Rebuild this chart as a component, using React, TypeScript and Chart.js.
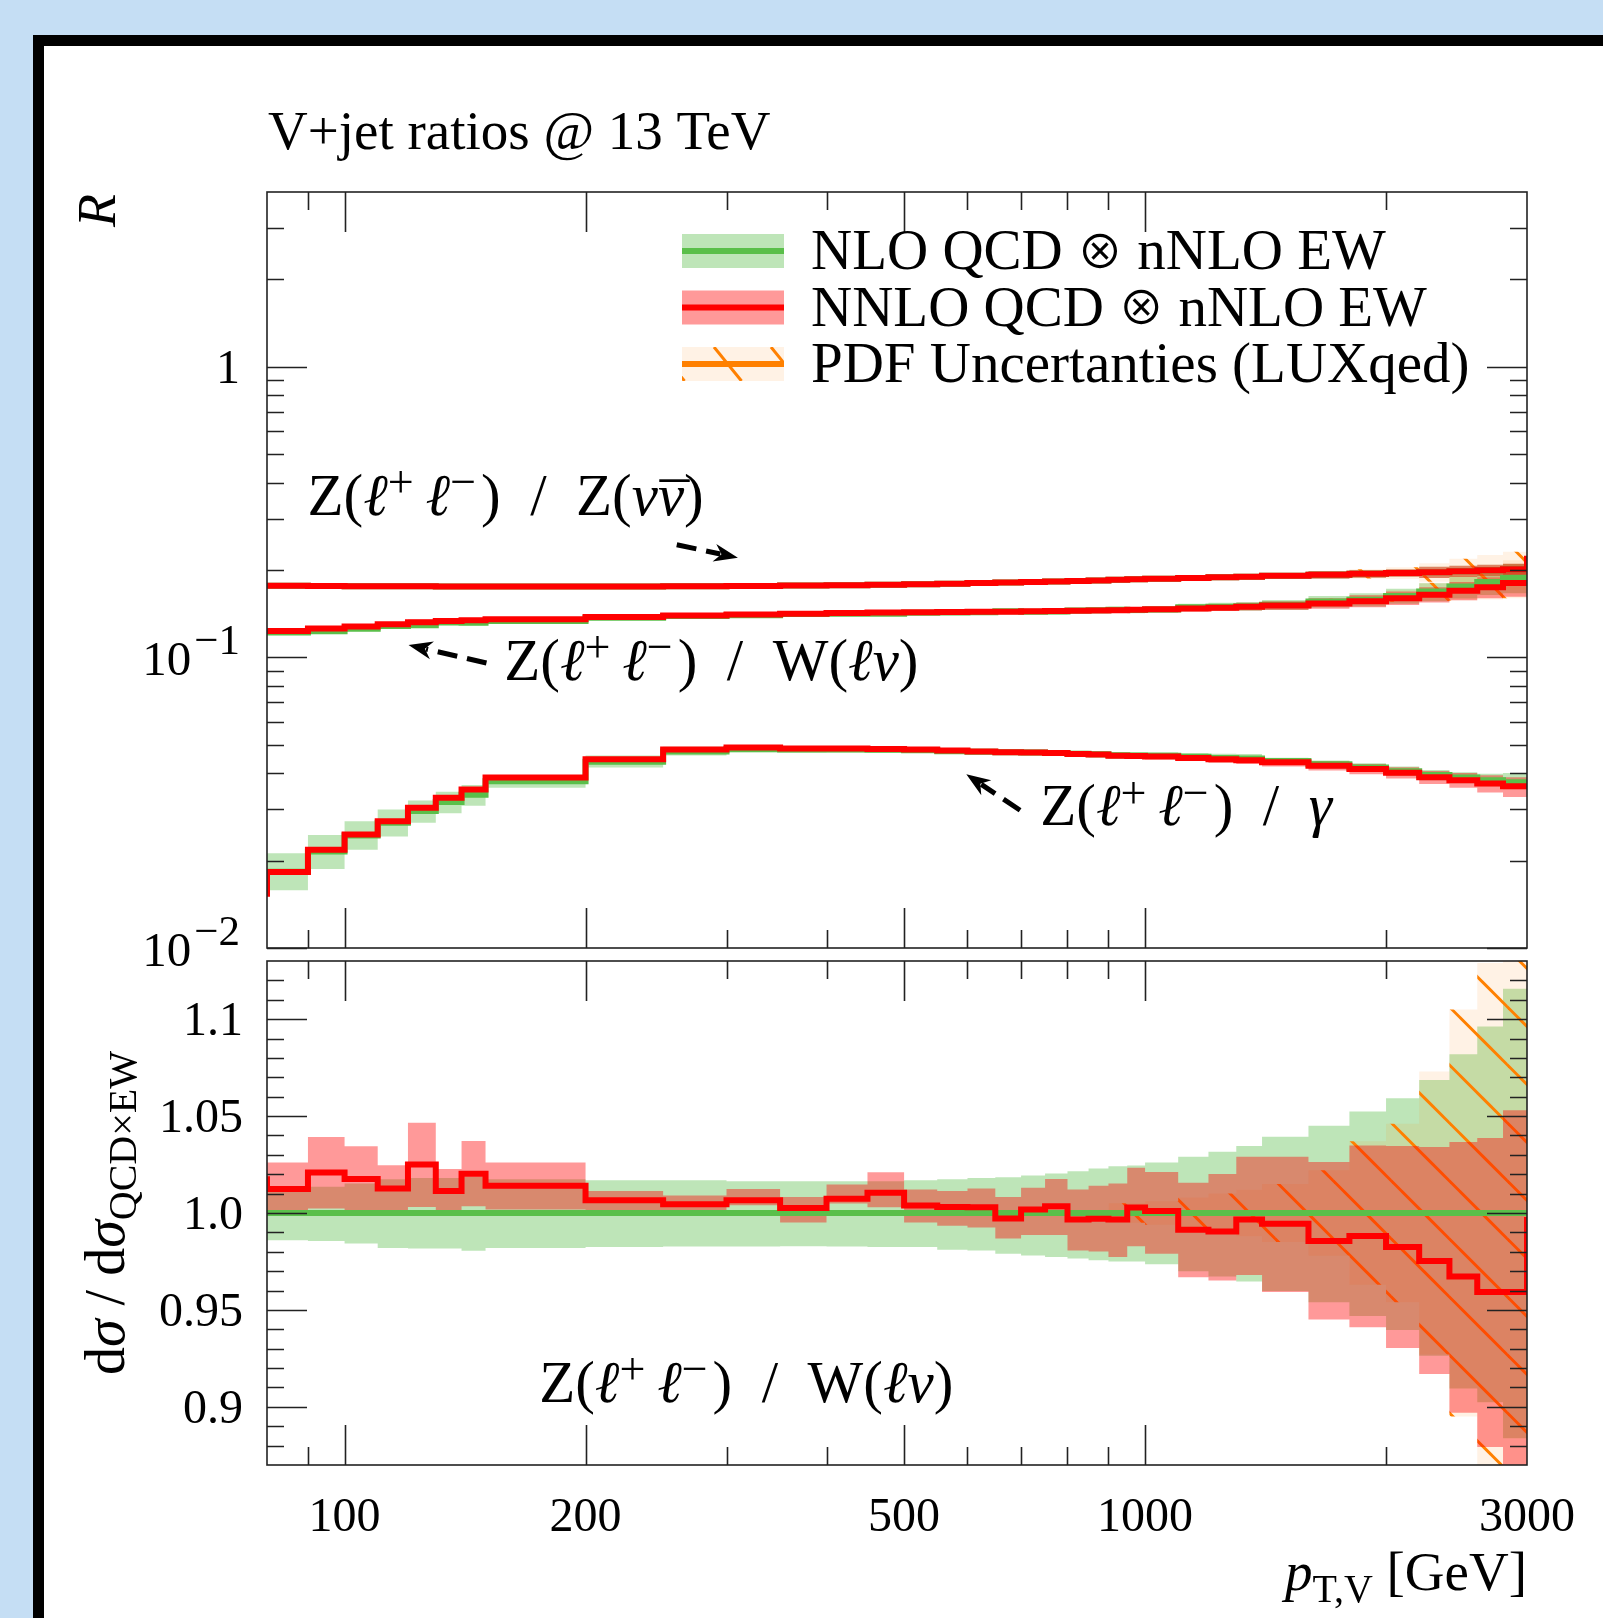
import { useEffect, useRef } from 'react';
import { Chart, registerables } from 'chart.js';

Chart.register(...registerables);

const W = 1603;
const H = 1618;
const FONT = '"Liberation Serif", "DejaVu Serif", serif';
const SYM_FONT = '"Noto Sans CJK JP", "DejaVu Sans", sans-serif';

// ---------------- data ----------------
const binEdges = [80, 90, 100, 110, 120, 130, 140, 150, 200, 250, 300, 350, 400, 450, 500, 550, 600, 650, 700, 750, 800, 850, 900, 950, 1000, 1100, 1200, 1300, 1400, 1600, 1800, 2000, 2200, 2400, 2600, 2800, 3000];
const pdfEdges = [900, 950, 1000, 1100, 1200, 1300, 1400, 1600, 1800, 2000, 2200, 2400, 2600, 2800, 3000];

// Z(ll)/Z(vv)
const zzAboveRange = 0.224;
const zzCentral = [0.1765, 0.1762, 0.1760, 0.1758, 0.1757, 0.1756, 0.1755, 0.1754, 0.1755, 0.1758, 0.1762, 0.1768, 0.1774, 0.1780, 0.1786, 0.1795, 0.1803, 0.1811, 0.1819, 0.1826, 0.1834, 0.1842, 0.1850, 0.1858, 0.1867, 0.1878, 0.1888, 0.1897, 0.1910, 0.1925, 0.1940, 0.1953, 0.1966, 0.1980, 0.1995, 0.2010];
const zzBandLo = [0.1758, 0.1755, 0.1753, 0.1751, 0.1750, 0.1749, 0.1748, 0.1747, 0.1748, 0.1751, 0.1755, 0.1761, 0.1767, 0.1773, 0.1775, 0.1784, 0.1792, 0.1800, 0.1808, 0.1815, 0.1823, 0.1831, 0.1832, 0.1839, 0.1848, 0.1859, 0.1850, 0.1859, 0.1872, 0.1867, 0.1882, 0.1894, 0.1878, 0.1891, 0.1905, 0.1920];
const zzBandHi = [0.1772, 0.1769, 0.1767, 0.1765, 0.1764, 0.1763, 0.1762, 0.1761, 0.1762, 0.1765, 0.1769, 0.1775, 0.1781, 0.1787, 0.1797, 0.1806, 0.1814, 0.1822, 0.1830, 0.1837, 0.1845, 0.1853, 0.1868, 0.1877, 0.1886, 0.1897, 0.1926, 0.1935, 0.1948, 0.1983, 0.1998, 0.2012, 0.2054, 0.2069, 0.2085, 0.2100];
const zzPdfLo = [0.1841, 0.1849, 0.1856, 0.1863, 0.1869, 0.1874, 0.1881, 0.1883, 0.1868, 0.1863, 0.1822, 0.1772, 0.1736, 0.1709];
const zzPdfHi = [0.1859, 0.1867, 0.1878, 0.1893, 0.1907, 0.1920, 0.1939, 0.1967, 0.2012, 0.2043, 0.2110, 0.2188, 0.2254, 0.2311];

// Z(ll)/W(lv)
const zwNNLO = [0.1234, 0.1258, 0.1277, 0.1300, 0.1322, 0.1335, 0.1344, 0.1355, 0.1379, 0.1395, 0.1405, 0.1415, 0.1423, 0.1428, 0.1430, 0.1433, 0.1436, 0.1438, 0.1441, 0.1444, 0.1447, 0.1450, 0.1455, 0.1460, 0.1464, 0.1475, 0.1482, 0.1495, 0.1510, 0.1535, 0.1562, 0.1600, 0.1644, 0.1697, 0.1746, 0.1803];
const zwNNLOLo = [0.1221, 0.1235, 0.1257, 0.1286, 0.1294, 0.1322, 0.1322, 0.1338, 0.1369, 0.1388, 0.1402, 0.1404, 0.1420, 0.1417, 0.1417, 0.1420, 0.1421, 0.1423, 0.1422, 0.1423, 0.1424, 0.1425, 0.1427, 0.1431, 0.1432, 0.1439, 0.1444, 0.1452, 0.1456, 0.1472, 0.1488, 0.1515, 0.1546, 0.1573, 0.1600, 0.1617];
const zwNNLOHi = [0.1251, 0.1280, 0.1298, 0.1316, 0.1350, 0.1350, 0.1366, 0.1371, 0.1386, 0.1402, 0.1413, 0.1423, 0.1434, 0.1443, 0.1441, 0.1445, 0.1450, 0.1454, 0.1457, 0.1464, 0.1470, 0.1475, 0.1482, 0.1490, 0.1494, 0.1511, 0.1526, 0.1544, 0.1562, 0.1598, 0.1636, 0.1685, 0.1743, 0.1818, 0.1890, 0.1980];
const zwNLO = [0.1219, 0.1232, 0.1255, 0.1284, 0.1290, 0.1320, 0.1317, 0.1336, 0.1370, 0.1389, 0.1396, 0.1411, 0.1413, 0.1413, 0.1424, 0.1429, 0.1432, 0.1442, 0.1438, 0.1439, 0.1452, 0.1454, 0.1460, 0.1456, 0.1463, 0.1488, 0.1496, 0.1500, 0.1518, 0.1557, 0.1581, 0.1629, 0.1686, 0.1754, 0.1820, 0.1880];
const zwNLOLo = [0.1202, 0.1214, 0.1235, 0.1261, 0.1266, 0.1296, 0.1291, 0.1312, 0.1346, 0.1365, 0.1372, 0.1387, 0.1389, 0.1388, 0.1399, 0.1402, 0.1404, 0.1412, 0.1407, 0.1406, 0.1418, 0.1419, 0.1424, 0.1420, 0.1424, 0.1443, 0.1447, 0.1447, 0.1457, 0.1485, 0.1497, 0.1531, 0.1562, 0.1595, 0.1642, 0.1662];
const zwNLOHi = [0.1232, 0.1249, 0.1274, 0.1306, 0.1313, 0.1344, 0.1341, 0.1359, 0.1393, 0.1412, 0.1419, 0.1434, 0.1436, 0.1436, 0.1448, 0.1454, 0.1458, 0.1469, 0.1466, 0.1468, 0.1483, 0.1487, 0.1495, 0.1492, 0.1501, 0.1531, 0.1543, 0.1552, 0.1578, 0.1627, 0.1664, 0.1725, 0.1802, 0.1898, 0.1995, 0.2098];
const zwPdfLo = [0.1453, 0.1449, 0.1454, 0.1476, 0.1481, 0.1482, 0.1495, 0.1523, 0.1523, 0.1554, 0.1563, 0.1570, 0.1583, 0.1598];
const zwPdfHi = [0.1467, 0.1463, 0.1472, 0.1500, 0.1511, 0.1518, 0.1541, 0.1591, 0.1639, 0.1704, 0.1809, 0.1938, 0.2057, 0.2162];

// Z(ll)/gamma
const zgBelowRange = 0.0150;
const zgNNLO = [0.01826, 0.0218, 0.0246, 0.0273, 0.0304, 0.0329, 0.0351, 0.0386, 0.0446, 0.0482, 0.0490, 0.0486, 0.0486, 0.0484, 0.0482, 0.0478, 0.0475, 0.0472, 0.0471, 0.0469, 0.0465, 0.0463, 0.0459, 0.0458, 0.0456, 0.0451, 0.0446, 0.0443, 0.0436, 0.0424, 0.0413, 0.0401, 0.0387, 0.0378, 0.0368, 0.0360];
const zgNNLOLo = [0.0180, 0.0216, 0.0243, 0.0270, 0.0301, 0.0326, 0.0347, 0.0382, 0.0441, 0.0477, 0.0485, 0.0481, 0.0481, 0.0479, 0.0476, 0.0472, 0.0469, 0.0465, 0.0464, 0.0462, 0.0457, 0.0455, 0.0450, 0.0449, 0.0446, 0.0440, 0.0434, 0.0430, 0.0421, 0.0408, 0.0396, 0.0383, 0.0367, 0.0356, 0.0343, 0.0331];
const zgNNLOHi = [0.0185, 0.0220, 0.0249, 0.0276, 0.0307, 0.0332, 0.0355, 0.0390, 0.0451, 0.0487, 0.0495, 0.0491, 0.0491, 0.0489, 0.0488, 0.0484, 0.0481, 0.0479, 0.0478, 0.0476, 0.0473, 0.0471, 0.0468, 0.0467, 0.0466, 0.0462, 0.0458, 0.0456, 0.0451, 0.0440, 0.0430, 0.0419, 0.0407, 0.0400, 0.0393, 0.0387];
const zgNLO = [0.0183, 0.0215, 0.0244, 0.0270, 0.0296, 0.0318, 0.0337, 0.0375, 0.0438, 0.0475, 0.0484, 0.0482, 0.0482, 0.0481, 0.0479, 0.0476, 0.0474, 0.0472, 0.0471, 0.0469, 0.0466, 0.0464, 0.0461, 0.0460, 0.0459, 0.0455, 0.0451, 0.0449, 0.0440, 0.0429, 0.0418, 0.0406, 0.0394, 0.0386, 0.0378, 0.0372];
const zgNLOLo = [0.0158, 0.0187, 0.0218, 0.0242, 0.0270, 0.0291, 0.0309, 0.0356, 0.0418, 0.0460, 0.0470, 0.0470, 0.0471, 0.0470, 0.0469, 0.0466, 0.0464, 0.0462, 0.0460, 0.0458, 0.0455, 0.0453, 0.0449, 0.0448, 0.0446, 0.0441, 0.0436, 0.0433, 0.0428, 0.0416, 0.0404, 0.0391, 0.0378, 0.0369, 0.0360, 0.0352];
const zgNLOHi = [0.0212, 0.0245, 0.0273, 0.0300, 0.0322, 0.0345, 0.0364, 0.0394, 0.0460, 0.0493, 0.0497, 0.0494, 0.0493, 0.0492, 0.0490, 0.0487, 0.0485, 0.0483, 0.0482, 0.0480, 0.0477, 0.0476, 0.0473, 0.0472, 0.0472, 0.0469, 0.0466, 0.0465, 0.0452, 0.0442, 0.0432, 0.0421, 0.0410, 0.0403, 0.0398, 0.0400];

// ratio panel: Z(ll)/W(lv), normalised to NLO QCD x nNLO EW
const ratioBelowRange = 1.019;
const ratioAboveRange = 0.998;
const ratioNNLO = [1.0124, 1.0209, 1.0176, 1.0126, 1.0250, 1.0114, 1.0203, 1.0140, 1.0066, 1.0045, 1.0066, 1.0026, 1.0073, 1.0104, 1.0039, 1.0031, 1.0030, 0.9972, 1.0018, 1.0035, 0.9966, 0.9970, 0.9966, 1.0028, 1.0010, 0.9913, 0.9904, 0.9966, 0.9945, 0.9856, 0.9881, 0.9824, 0.9753, 0.9673, 0.9593, 0.9593];
const ratioNNLOLo = [1.0014, 1.0023, 1.0014, 1.0014, 1.0031, 1.0014, 1.0035, 1.0018, 0.9990, 0.9990, 1.0040, 0.9951, 1.0049, 1.0030, 0.9951, 0.9934, 0.9925, 0.9869, 0.9886, 0.9886, 0.9806, 0.9801, 0.9773, 0.9828, 0.9790, 0.9668, 0.9652, 0.9680, 0.9593, 0.9451, 0.9410, 0.9303, 0.9170, 0.8970, 0.8793, 0.8600];
const ratioNNLOHi = [1.0260, 1.0392, 1.0344, 1.0246, 1.0466, 1.0227, 1.0372, 1.0260, 1.0114, 1.0090, 1.0124, 1.0083, 1.0147, 1.0210, 1.0121, 1.0114, 1.0126, 1.0083, 1.0130, 1.0176, 1.0121, 1.0141, 1.0152, 1.0233, 1.0212, 1.0156, 1.0201, 1.0290, 1.0290, 1.0263, 1.0348, 1.0345, 1.0340, 1.0366, 1.0387, 1.0530];
const ratioNLO = [1.0, 1.0];
const ratioNLOLo = [0.9860, 0.9856, 0.9843, 0.9820, 0.9817, 0.9817, 0.9805, 0.9820, 0.9825, 0.9827, 0.9827, 0.9829, 0.9827, 0.9825, 0.9825, 0.9810, 0.9806, 0.9790, 0.9781, 0.9773, 0.9765, 0.9756, 0.9750, 0.9750, 0.9735, 0.9700, 0.9673, 0.9646, 0.9597, 0.9540, 0.9469, 0.9397, 0.9264, 0.9095, 0.9024, 0.8838];
const ratioNLOHi = [1.0109, 1.0135, 1.0152, 1.0174, 1.0181, 1.0181, 1.0186, 1.0174, 1.0169, 1.0169, 1.0164, 1.0164, 1.0164, 1.0164, 1.0169, 1.0174, 1.0180, 1.0185, 1.0193, 1.0204, 1.0215, 1.0229, 1.0241, 1.0245, 1.0260, 1.0290, 1.0316, 1.0345, 1.0393, 1.0450, 1.0523, 1.0592, 1.0686, 1.0819, 1.0962, 1.1157];
const ratioPdfLo = [0.995, 0.995, 0.994, 0.992, 0.990, 0.988, 0.985, 0.978, 0.963, 0.954, 0.927, 0.895, 0.866, 0.850];
const ratioPdfHi = [1.005, 1.005, 1.006, 1.008, 1.010, 1.012, 1.015, 1.022, 1.037, 1.046, 1.073, 1.105, 1.129, 1.150];

// ticks
const xMajorTicks = [100, 200, 500, 1000];
const xMinorTicks = [90, 300, 400, 600, 700, 800, 900, 2000];
const xTickLabels = [
  { v: 100, t: '100' },
  { v: 200, t: '200' },
  { v: 500, t: '500' },
  { v: 1000, t: '1000' },
  { v: 3000, t: '3000' },
];
const topYMajor = [0.01, 0.1, 1];
const topYMinor = [0.02, 0.03, 0.04, 0.05, 0.06, 0.07, 0.08, 0.09, 0.2, 0.3, 0.4, 0.5, 0.6, 0.7, 0.8, 0.9, 2, 3];
const topYLabels = [
  { v: 1, base: '1', exp: '' },
  { v: 0.1, base: '10', exp: '−1' },
  { v: 0.01, base: '10', exp: '−2' },
];
const botYMajor = [0.9, 0.95, 1.0, 1.05, 1.1];
const botYMinor = [0.88, 0.89, 0.91, 0.92, 0.93, 0.94, 0.96, 0.97, 0.98, 0.99, 1.01, 1.02, 1.03, 1.04, 1.06, 1.07, 1.08, 1.09, 1.11, 1.12];
const botYLabels = [
  { v: 1.1, t: '1.1' },
  { v: 1.05, t: '1.05' },
  { v: 1.0, t: '1.0' },
  { v: 0.95, t: '0.95' },
  { v: 0.9, t: '0.9' },
];

// colours
const RED = '#ff0000';
const RED_BAND = 'rgba(255,0,0,0.4)';
const GREEN = '#5abf4a';
const GREEN_BAND = 'rgba(92,191,77,0.4)';
const ORANGE = '#ff8000';
const ORANGE_FILL = 'rgba(255,128,0,0.1)';

// ---------------- helpers ----------------
function steps(edges: number[], vals: number[], before?: number, after?: number) {
  const pts: { x: number; y: number }[] = [];
  if (before !== undefined) pts.push({ x: edges[0], y: before });
  vals.forEach((v, i) => pts.push({ x: edges[i], y: v }));
  pts.push({ x: edges[vals.length], y: vals[vals.length - 1] });
  if (after !== undefined) pts.push({ x: edges[vals.length], y: after });
  return pts;
}

function lineDs(data: any[], color: string, width = 6) {
  return { data, borderColor: color, borderWidth: width, pointRadius: 0, fill: false, stepped: true, tension: 0, borderJoinStyle: 'miter' };
}
function bandHi(data: any[], bg: any) {
  return { data, borderColor: 'rgba(0,0,0,0)', borderWidth: 0, pointRadius: 0, fill: '+1', backgroundColor: bg, stepped: true, tension: 0 };
}
function bandLo(data: any[]) {
  return { data, borderColor: 'rgba(0,0,0,0)', borderWidth: 0, pointRadius: 0, fill: false, stepped: true, tension: 0 };
}

function makePattern(): any {
  const c = document.createElement('canvas');
  const S = 58;
  c.width = S;
  c.height = S;
  const g = c.getContext('2d')!;
  g.fillStyle = ORANGE_FILL;
  g.fillRect(0, 0, S, S);
  g.strokeStyle = ORANGE;
  g.lineWidth = 3;
  for (let k = -2; k <= 2; k++) {
    const off = 36.5 + S * k;
    g.beginPath();
    g.moveTo(-20, -20 - off);
    g.lineTo(S + 20, S + 20 - off);
    g.stroke();
  }
  return g.createPattern(c, 'repeat');
}

type Seg = { t: string; i?: boolean; s?: 'sup' | 'sub'; over?: boolean; sym?: boolean };
function drawRich(ctx: CanvasRenderingContext2D, segs: Seg[], x: number, y: number, size: number, align: 'left' | 'center' | 'right', supScale = 0.72, supRaise = 0.34) {
  const fontFor = (s: Seg) => {
    if (s.sym) return `${Math.round(size * 0.8)}px ${SYM_FONT}`;
    return `${s.i ? 'italic ' : ''}${s.s ? Math.round(size * supScale) : size}px ${FONT}`;
  };
  const widths = segs.map((s) => {
    ctx.font = fontFor(s);
    return s.over ? 0 : ctx.measureText(s.t).width;
  });
  const total = widths.reduce((p, c) => p + c, 0);
  let cx = align === 'left' ? x : align === 'center' ? x - total / 2 : x - total;
  ctx.textBaseline = 'alphabetic';
  let prevStart = cx;
  let prevW = 0;
  segs.forEach((s, k) => {
    ctx.font = fontFor(s);
    if (s.over) {
      ctx.textAlign = 'center';
      ctx.fillText(s.t, prevStart + prevW / 2 + size * 0.06, y + size * 0.16);
      ctx.textAlign = 'left';
      return;
    }
    ctx.textAlign = 'left';
    const dy = s.s === 'sup' ? -size * supRaise : s.s === 'sub' ? size * 0.22 : s.sym ? -size * 0.02 : 0;
    ctx.fillText(s.t, cx, y + dy);
    prevStart = cx;
    prevW = widths[k];
    cx += widths[k];
  });
}

function arrow(ctx: CanvasRenderingContext2D, x0: number, y0: number, x1: number, y1: number) {
  const ang = Math.atan2(y1 - y0, x1 - x0);
  const L = 24;
  const Wd = 9;
  const bx = x1 - Math.cos(ang) * L * 0.75;
  const by = y1 - Math.sin(ang) * L * 0.75;
  ctx.save();
  ctx.strokeStyle = '#000';
  ctx.fillStyle = '#000';
  ctx.lineWidth = 5;
  ctx.lineCap = 'butt';
  ctx.setLineDash([20, 10]);
  ctx.beginPath();
  ctx.moveTo(x0, y0);
  ctx.lineTo(bx, by);
  ctx.stroke();
  ctx.setLineDash([]);
  ctx.translate(x1, y1);
  ctx.rotate(ang);
  ctx.beginPath();
  ctx.moveTo(0, 0);
  ctx.lineTo(-L, -Wd);
  ctx.lineTo(-L * 0.7, 0);
  ctx.lineTo(-L, Wd);
  ctx.closePath();
  ctx.fill();
  ctx.restore();
}

function drawFrame(ctx: CanvasRenderingContext2D, a: any, xs: any, ys: any, yMaj: number[], yMin: number[]) {
  ctx.save();
  ctx.strokeStyle = '#222';
  ctx.lineWidth = 1.6;
  ctx.beginPath();
  const seg = (x0: number, y0: number, x1: number, y1: number) => {
    ctx.moveTo(x0, y0);
    ctx.lineTo(x1, y1);
  };
  const xt = (vals: number[], len: number) =>
    vals.forEach((v) => {
      const p = Math.round(xs.getPixelForValue(v)) + 0.5;
      seg(p, a.bottom, p, a.bottom - len);
      seg(p, a.top, p, a.top + len);
    });
  const yt = (vals: number[], len: number) =>
    vals.forEach((v) => {
      const p = Math.round(ys.getPixelForValue(v)) + 0.5;
      seg(a.left, p, a.left + len, p);
      seg(a.right, p, a.right - len, p);
    });
  xt(xMajorTicks, 40);
  xt(xMinorTicks, 18);
  yt(yMaj, 40);
  yt(yMin, 17);
  ctx.stroke();
  ctx.strokeRect(a.left, a.top, a.right - a.left, a.bottom - a.top);
  ctx.restore();
}

const llPart: Seg[] = [{ t: 'Z(' }, { t: 'ℓ', i: true }, { t: '+', s: 'sup' }, { t: '\u2009' }, { t: 'ℓ', i: true }, { t: '−', s: 'sup' }, { t: '\u200a)' }, { t: '\u2002/\u2002' }];
const labelZZ: Seg[] = [...llPart, { t: 'Z(' }, { t: 'ν', i: true }, { t: 'ν', i: true }, { t: '¯', over: true }, { t: ')' }];
const labelZW: Seg[] = [...llPart, { t: 'W(' }, { t: 'ℓν', i: true }, { t: ')' }];
const labelZG: Seg[] = [...llPart, { t: 'γ', i: true }];

// annotation anchors in data coordinates
const topNotes = [
  { segs: labelZZ, x: 89.9, y: 0.31 },
  { segs: labelZW, x: 158.3, y: 0.0836 },
  { segs: labelZG, x: 739.6, y: 0.02645 },
];
const topArrows = [
  { x0: 260, y0: 0.2443, x1: 310, y1: 0.2204 },
  { x0: 150.4, y0: 0.0957, x1: 120.2, y1: 0.1104 },
  { x0: 698, y0: 0.0298, x1: 598, y1: 0.0396 },
];
const botNote = { segs: labelZW, x: 175, y: 0.9025 };
const NOTE_SIZE = 59;

const legendItems: { kind: string; segs: Seg[] }[] = [
  { kind: 'green', segs: [{ t: 'NLO QCD ' }, { t: '⊗', sym: true }, { t: ' nNLO EW' }] },
  { kind: 'red', segs: [{ t: 'NNLO QCD ' }, { t: '⊗', sym: true }, { t: ' nNLO EW' }] },
  { kind: 'pdf', segs: [{ t: 'PDF Uncertanties (LUXqed)' }] },
];

const topPlugin = {
  id: 'topDecor',
  afterDatasetsDraw(chart: any) {
    const { ctx, chartArea: a } = chart;
    const xs = chart.scales.x;
    const ys = chart.scales.y;
    drawFrame(ctx, a, xs, ys, topYMajor, topYMinor);
    ctx.save();
    ctx.fillStyle = '#000';
    // tick labels
    topYLabels.forEach((l) => {
      const py = ys.getPixelForValue(l.v);
      ctx.textBaseline = 'alphabetic';
      ctx.textAlign = 'right';
      const rx = a.left - 27;
      if (!l.exp) {
        ctx.font = `48px ${FONT}`;
        ctx.fillText(l.base, rx, py + 16);
      } else {
        ctx.font = `43px ${FONT}`;
        const ew = ctx.measureText(l.exp).width;
        ctx.fillText(l.exp, rx, py - 3);
        ctx.font = `49px ${FONT}`;
        ctx.fillText(l.base, rx - ew - 3, py + 18);
      }
    });
    // title
    ctx.font = `55px ${FONT}`;
    ctx.textAlign = 'left';
    ctx.fillText('V+jet ratios @ 13 TeV', 268, 149);
    // axis title R
    ctx.save();
    ctx.translate(115, a.top + 2);
    ctx.rotate(-Math.PI / 2);
    ctx.font = `italic 54px ${FONT}`;
    ctx.textAlign = 'right';
    ctx.fillText('R', 0, 0);
    ctx.restore();
    // annotations
    topNotes.forEach((n) => drawRich(ctx, n.segs, xs.getPixelForValue(n.x), ys.getPixelForValue(n.y), NOTE_SIZE, 'left', 0.78, 0.3));
    topArrows.forEach((r) => arrow(ctx, xs.getPixelForValue(r.x0), ys.getPixelForValue(r.y0), xs.getPixelForValue(r.x1), ys.getPixelForValue(r.y1)));
    // legend
    const sx0 = a.left + 415;
    const sx1 = a.left + 517;
    legendItems.forEach((it, k) => {
      const cy = a.top + 59 + k * 56.5;
      const bt = cy - 17;
      ctx.save();
      if (it.kind === 'green') {
        ctx.fillStyle = GREEN_BAND;
        ctx.fillRect(sx0, bt, sx1 - sx0, 34);
        ctx.fillStyle = GREEN;
        ctx.fillRect(sx0, cy - 3, sx1 - sx0, 6);
      } else if (it.kind === 'red') {
        ctx.fillStyle = RED_BAND;
        ctx.fillRect(sx0, bt, sx1 - sx0, 34);
        ctx.fillStyle = RED;
        ctx.fillRect(sx0, cy - 3, sx1 - sx0, 6);
      } else {
        ctx.fillStyle = ORANGE_FILL;
        ctx.fillRect(sx0, bt, sx1 - sx0, 34);
        ctx.beginPath();
        ctx.rect(sx0, bt, sx1 - sx0, 34);
        ctx.clip();
        ctx.strokeStyle = ORANGE;
        ctx.lineWidth = 3;
        for (let j = -2; j < 3; j++) {
          const x0 = sx0 + 32 + j * 57;
          ctx.beginPath();
          ctx.moveTo(x0, bt);
          ctx.lineTo(x0 + 27.5, bt + 34);
          ctx.stroke();
        }
        ctx.fillStyle = ORANGE;
        ctx.fillRect(sx0, cy - 3, sx1 - sx0, 6);
      }
      ctx.restore();
      ctx.fillStyle = '#000';
      drawRich(ctx, it.segs, a.left + 544, cy + 18, 57, 'left');
    });
    ctx.restore();
  },
};

const botPlugin = {
  id: 'botDecor',
  afterDatasetsDraw(chart: any) {
    const { ctx, chartArea: a } = chart;
    const xs = chart.scales.x;
    const ys = chart.scales.y;
    drawFrame(ctx, a, xs, ys, botYMajor, botYMinor);
    ctx.save();
    ctx.fillStyle = '#000';
    ctx.font = `48px ${FONT}`;
    ctx.textBaseline = 'alphabetic';
    ctx.textAlign = 'right';
    botYLabels.forEach((l) => ctx.fillText(l.t, a.left - 24, ys.getPixelForValue(l.v) + 16));
    ctx.textAlign = 'center';
    xTickLabels.forEach((l) => ctx.fillText(l.t, xs.getPixelForValue(l.v), a.bottom + 66));
    // x title
    drawRich(ctx, [{ t: 'p', i: true }, { t: 'T,V', s: 'sub' }, { t: ' [GeV]' }], a.right, a.bottom + 125, 55, 'right');
    // y title
    ctx.save();
    ctx.translate(124, (a.top + a.bottom) / 2);
    ctx.rotate(-Math.PI / 2);
    drawRich(ctx, [{ t: 'd' }, { t: 'σ', i: true }, { t: ' / d' }, { t: 'σ', i: true }, { t: 'QCD×EW', s: 'sub' }], 0, 0, 56, 'center');
    ctx.restore();
    drawRich(ctx, botNote.segs, xs.getPixelForValue(botNote.x), ys.getPixelForValue(botNote.y), NOTE_SIZE, 'left', 0.78, 0.3);
    ctx.restore();
  },
};

function topConfig(pattern: any): any {
  const datasets = [
    lineDs(steps(binEdges, zzCentral, undefined, zzAboveRange), RED),
    lineDs(steps(binEdges, zwNNLO), RED),
    lineDs(steps(binEdges, zgNNLO, zgBelowRange), RED),
    lineDs(steps(binEdges, zzCentral), GREEN),
    lineDs(steps(binEdges, zwNLO), GREEN),
    lineDs(steps(binEdges, zgNLO), GREEN),
    bandHi(steps(binEdges, zzBandHi), RED_BAND),
    bandLo(steps(binEdges, zzBandLo)),
    bandHi(steps(binEdges, zwNNLOHi), RED_BAND),
    bandLo(steps(binEdges, zwNNLOLo)),
    bandHi(steps(binEdges, zgNNLOHi), RED_BAND),
    bandLo(steps(binEdges, zgNNLOLo)),
    bandHi(steps(pdfEdges, zzPdfHi), pattern),
    bandLo(steps(pdfEdges, zzPdfLo)),
    bandHi(steps(pdfEdges, zwPdfHi), pattern),
    bandLo(steps(pdfEdges, zwPdfLo)),
    bandHi(steps(binEdges, zzBandHi), GREEN_BAND),
    bandLo(steps(binEdges, zzBandLo)),
    bandHi(steps(binEdges, zwNLOHi), GREEN_BAND),
    bandLo(steps(binEdges, zwNLOLo)),
    bandHi(steps(binEdges, zgNLOHi), GREEN_BAND),
    bandLo(steps(binEdges, zgNLOLo)),
  ];
  return {
    type: 'line',
    data: { datasets },
    options: {
      animation: false,
      responsive: false,
      maintainAspectRatio: false,
      devicePixelRatio: 1,
      events: [],
      layout: { padding: { left: 267, top: 192, right: W - 1527, bottom: H - 948 } },
      plugins: { legend: { display: false }, tooltip: { enabled: false } },
      scales: {
        x: { type: 'logarithmic', min: 80, max: 3000, display: false },
        y: { type: 'logarithmic', min: 0.01, max: 4, display: false },
      },
    },
    plugins: [topPlugin],
  };
}

function botConfig(pattern: any): any {
  const datasets = [
    lineDs(steps(binEdges, ratioNNLO, ratioBelowRange, ratioAboveRange), RED),
    lineDs([{ x: binEdges[0], y: ratioNLO[0] }, { x: binEdges[binEdges.length - 1], y: ratioNLO[1] }], GREEN),
    bandHi(steps(binEdges, ratioNNLOHi), RED_BAND),
    bandLo(steps(binEdges, ratioNNLOLo)),
    bandHi(steps(pdfEdges, ratioPdfHi), pattern),
    bandLo(steps(pdfEdges, ratioPdfLo)),
    bandHi(steps(binEdges, ratioNLOHi), GREEN_BAND),
    bandLo(steps(binEdges, ratioNLOLo)),
  ];
  return {
    type: 'line',
    data: { datasets },
    options: {
      animation: false,
      responsive: false,
      maintainAspectRatio: false,
      devicePixelRatio: 1,
      events: [],
      layout: { padding: { left: 267, top: 961, right: W - 1527, bottom: H - 1465 } },
      plugins: { legend: { display: false }, tooltip: { enabled: false } },
      scales: {
        x: { type: 'logarithmic', min: 80, max: 3000, display: false },
        y: { type: 'linear', min: 0.87, max: 1.13, display: false },
      },
    },
    plugins: [botPlugin],
  };
}

export default function App() {
  const topRef = useRef<HTMLCanvasElement>(null);
  const botRef = useRef<HTMLCanvasElement>(null);
  useEffect(() => {
    const pattern = makePattern();
    const top = new Chart(topRef.current!, topConfig(pattern));
    const bot = new Chart(botRef.current!, botConfig(pattern));
    return () => {
      top.destroy();
      bot.destroy();
    };
  }, []);
  const cv: any = { position: 'absolute', left: 0, top: 0, width: W, height: H };
  return (
    <div style={{ position: 'absolute', left: 0, top: 0, width: W, height: H, background: '#c5def4', overflow: 'hidden' }}>
      <div style={{ position: 'absolute', left: 33, top: 35, width: W, height: H, background: '#ffffff', borderLeft: '11px solid #000', borderTop: '11px solid #000' }} />
      <canvas ref={topRef} width={W} height={H} style={cv} />
      <canvas ref={botRef} width={W} height={H} style={cv} />
    </div>
  );
}
